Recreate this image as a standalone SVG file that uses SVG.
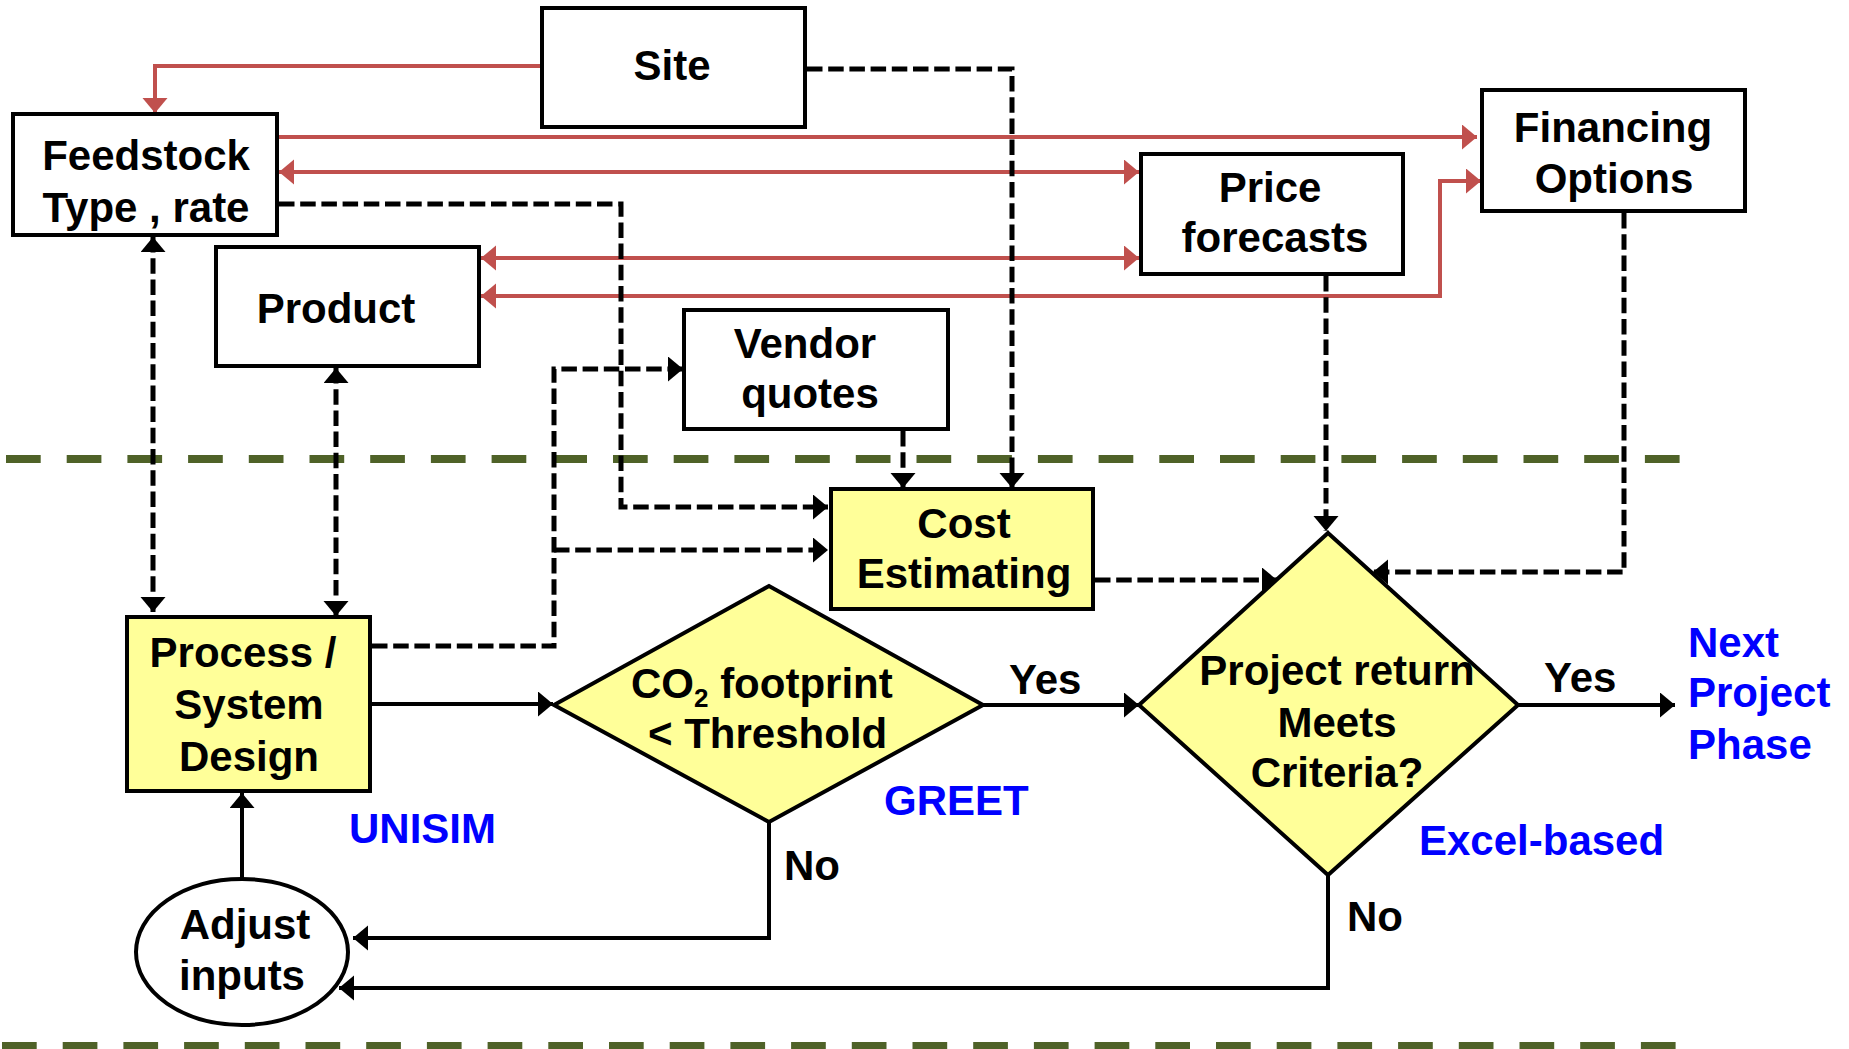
<svg xmlns="http://www.w3.org/2000/svg" width="1849" height="1049" viewBox="0 0 1849 1049">
  <style>
    .box { fill: #ffffff; stroke: #000000; stroke-width: 4; }
    .hl { fill: #ffff99; stroke: #000000; stroke-width: 4; }
    .t { font-family: "Liberation Sans", Arial, sans-serif; font-weight: bold; font-size: 42px; fill: #000000; }
    .c { text-anchor: middle; }
    .blue { fill: #0000ff; }
    .red { fill: none; stroke: #c0504d; stroke-width: 4; }
    .dash { fill: none; stroke: #000000; stroke-width: 5; stroke-dasharray: 15.5 5.7; }
    .solid { fill: none; stroke: #000000; stroke-width: 4; }
    .sep { fill: none; stroke: #4f6228; stroke-width: 8; stroke-dasharray: 34.7 26; }
  </style>
  <defs>
    <marker id="ar" markerUnits="userSpaceOnUse" markerWidth="16" markerHeight="26" refX="15" refY="12.5" orient="auto-start-reverse" viewBox="0 0 16 26">
      <path d="M0,0 L15,12.5 L0,25 z" fill="#c0504d"/>
    </marker>
    <marker id="ak" markerUnits="userSpaceOnUse" markerWidth="16" markerHeight="26" refX="15" refY="12.5" orient="auto-start-reverse" viewBox="0 0 16 26">
      <path d="M0,0 L15,12.5 L0,25 z" fill="#000000"/>
    </marker>
  </defs>

  <rect width="1849" height="1049" fill="#ffffff"/>

  <!-- phase separators -->
  <g id="separators">
    <line class="sep" x1="6" y1="459" x2="1680" y2="459"/>
    <line class="sep" x1="2" y1="1046" x2="1677" y2="1046"/>
  </g>

  <!-- connectors -->
  <g id="connectors">
    <!-- red: data flows between inputs -->
    <polyline class="red" points="542,66 155,66 155,113" marker-end="url(#ar)"/>
    <line class="red" x1="279" y1="137" x2="1477" y2="137" marker-end="url(#ar)"/>
    <line class="red" x1="279" y1="172" x2="1139" y2="172" marker-start="url(#ar)" marker-end="url(#ar)"/>
    <line class="red" x1="481" y1="258" x2="1139" y2="258" marker-start="url(#ar)" marker-end="url(#ar)"/>
    <polyline class="red" points="481,296 1440,296 1440,181 1481,181" marker-start="url(#ar)" marker-end="url(#ar)"/>

    <!-- black dashed: information flows -->
    <polyline class="dash" points="807,69 1012,69 1012,488" marker-end="url(#ak)"/>
    <polyline class="dash" points="279,204 621,204 621,507 828,507" marker-end="url(#ak)"/>
    <polyline class="dash" points="372,646 554,646 554,369 683,369" marker-end="url(#ak)"/>
    <line class="dash" x1="554" y1="550" x2="828" y2="550" marker-end="url(#ak)"/>
    <line class="dash" x1="903" y1="431" x2="903" y2="488" marker-end="url(#ak)"/>
    <line class="dash" x1="1095" y1="580" x2="1277" y2="580" marker-end="url(#ak)"/>
    <line class="dash" x1="1326" y1="276" x2="1326" y2="531" marker-end="url(#ak)"/>
    <polyline class="dash" points="1624,213 1624,572 1373,572" marker-end="url(#ak)"/>
    <line class="dash" x1="153" y1="237" x2="153" y2="612" marker-start="url(#ak)" marker-end="url(#ak)"/>
    <line class="dash" x1="336" y1="368" x2="336" y2="616" marker-start="url(#ak)" marker-end="url(#ak)"/>

    <!-- black solid: decision flow -->
    <line class="solid" x1="372" y1="704" x2="553" y2="704" marker-end="url(#ak)"/>
    <line class="solid" x1="983" y1="705" x2="1139" y2="705" marker-end="url(#ak)"/>
    <line class="solid" x1="1518" y1="705" x2="1675" y2="705" marker-end="url(#ak)"/>
    <polyline class="solid" points="769,822 769,938 353,938" marker-end="url(#ak)"/>
    <polyline class="solid" points="1328,875 1328,988 339,988" marker-end="url(#ak)"/>
    <line class="solid" x1="242" y1="879" x2="242" y2="793" marker-end="url(#ak)"/>
  </g>

  <g id="site">
    <rect class="box" x="542" y="8" width="263" height="119"/>
    <text class="t c" x="672" y="80">Site</text>
  </g>

  <g id="feedstock">
    <rect class="box" x="13" y="114" width="264" height="121"/>
    <text class="t c" x="146" y="170">Feedstock</text>
    <text class="t c" x="146" y="222">Type , rate</text>
  </g>

  <g id="product">
    <rect class="box" x="216" y="247" width="263" height="119"/>
    <text class="t c" x="336" y="323">Product</text>
  </g>

  <g id="vendor-quotes">
    <rect class="box" x="684" y="310" width="264" height="119"/>
    <text class="t c" x="805" y="358">Vendor</text>
    <text class="t c" x="810" y="408">quotes</text>
  </g>

  <g id="price-forecasts">
    <rect class="box" x="1141" y="154" width="262" height="120"/>
    <text class="t c" x="1270" y="202">Price</text>
    <text class="t c" x="1275" y="252">forecasts</text>
  </g>

  <g id="financing-options">
    <rect class="box" x="1482" y="90" width="263" height="121"/>
    <text class="t c" x="1613" y="142">Financing</text>
    <text class="t c" x="1614" y="193">Options</text>
  </g>

  <g id="cost-estimating">
    <rect class="hl" x="831" y="489" width="262" height="120"/>
    <text class="t c" x="964" y="538">Cost</text>
    <text class="t c" x="964" y="588">Estimating</text>
  </g>

  <g id="process-design">
    <rect class="hl" x="127" y="617" width="243" height="174"/>
    <text class="t c" x="243" y="667">Process /</text>
    <text class="t c" x="249" y="719">System</text>
    <text class="t c" x="249" y="771">Design</text>
    <text class="t blue" x="349" y="843">UNISIM</text>
  </g>

  <g id="co2-check">
    <polygon class="hl" points="554,705 769,586 983,705 769,822"/>
    <text class="t" x="631" y="698">CO<tspan font-size="26" dy="9">2</tspan><tspan dy="-9"> footprint</tspan></text>
    <text class="t" x="648" y="748">&lt; Threshold</text>
    <text class="t blue" x="884" y="815">GREET</text>
    <text class="t" x="1009" y="694">Yes</text>
    <text class="t" x="784" y="880">No</text>
  </g>

  <g id="project-return">
    <polygon class="hl" points="1328,533 1518,705 1328,875 1139,705"/>
    <text class="t c" x="1337" y="685">Project return</text>
    <text class="t c" x="1337" y="737">Meets</text>
    <text class="t c" x="1337" y="787">Criteria?</text>
    <text class="t blue" x="1419" y="855">Excel-based</text>
    <text class="t" x="1544" y="692">Yes</text>
    <text class="t" x="1347" y="931">No</text>
  </g>

  <g id="next-phase">
    <text class="t blue" x="1688" y="657">Next</text>
    <text class="t blue" x="1688" y="707">Project</text>
    <text class="t blue" x="1688" y="759">Phase</text>
  </g>

  <g id="adjust-inputs">
    <ellipse class="box" cx="242" cy="952" rx="106" ry="73"/>
    <text class="t c" x="245" y="939">Adjust</text>
    <text class="t c" x="242" y="990">inputs</text>
  </g>
</svg>
